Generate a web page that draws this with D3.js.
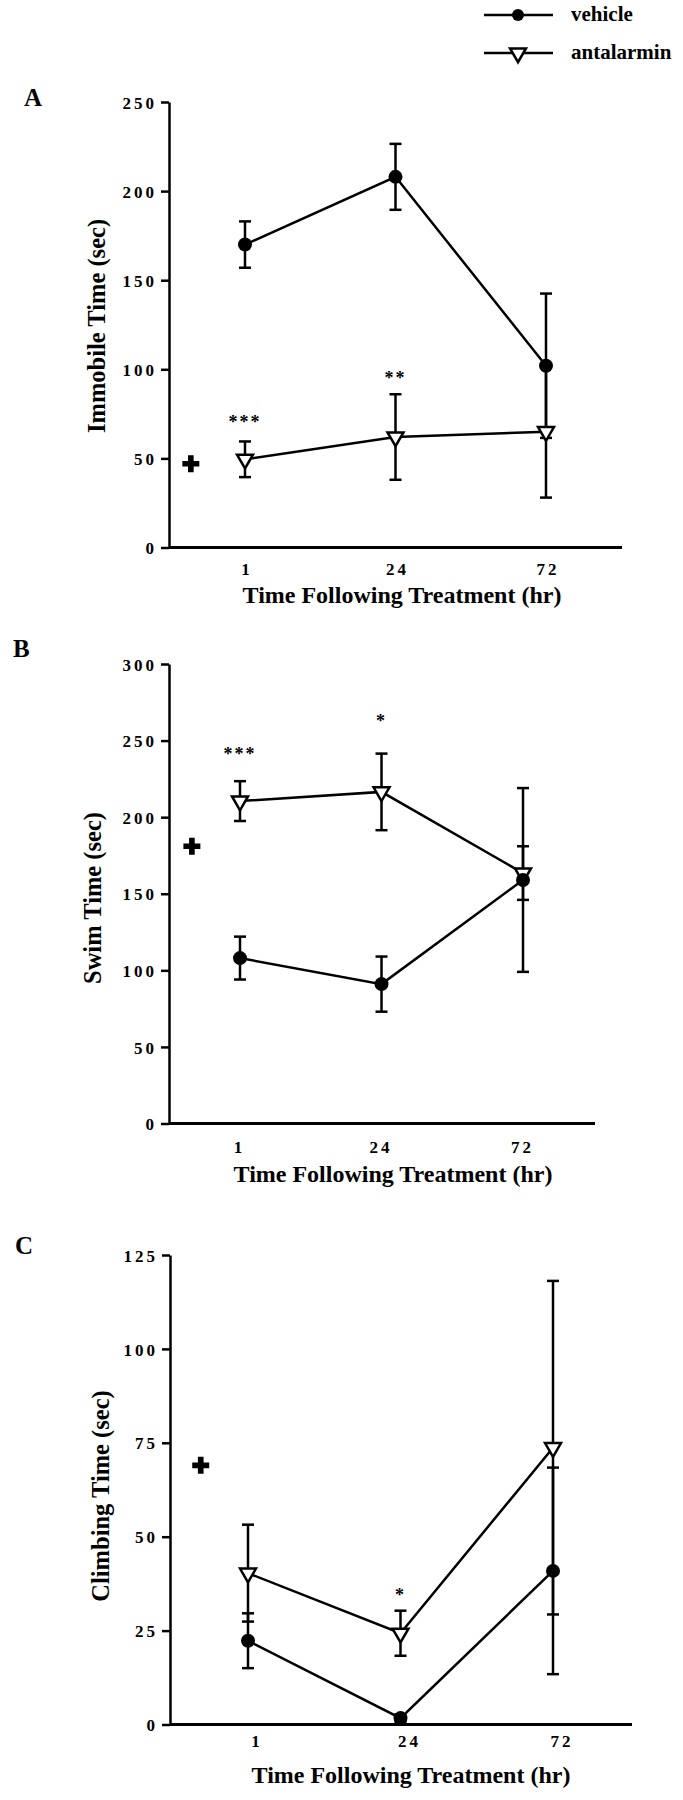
<!DOCTYPE html>
<html><head><meta charset="utf-8">
<script src="https://cdn.jsdelivr.net/npm/d3@7"></script>
<style>
body{margin:0;background:#fff;}
svg{display:block;background:#fff;}
text{font-family:"Liberation Serif","Times New Roman",serif;font-weight:bold;fill:#000;}
</style></head><body>
<svg id="chart" width="683" height="1800"></svg>
<script>
// ---------- data ----------
const hours = ["1", "24", "72"];
const seriesNames = ["vehicle", "antalarmin"];
const xTitle = "Time Following Treatment (hr)";

// Panel A : Immobile time
const immobileVehicle = [170, 208, 102];
const immobileVehicleErr = [13, 18.5, 40.5];
const immobileAntalarmin = [49.5, 62, 65];
const immobileAntalarminErr = [10, 24, 37];
const immobileControl = 47;
const immobileSig = ["***", "**", ""];
const immobileSigLevel = [71.5, 96, 0];
const immobileTicks = [0, 50, 100, 150, 200, 250];

// Panel B : Swim time
const swimVehicle = [108, 91, 159];
const swimVehicleErr = [14, 18, 60];
const swimAntalarmin = [210.5, 216.5, 163.5];
const swimAntalarminErr = [13, 25, 17.5];
const swimControl = 181;
const swimSig = ["***", "*", ""];
const swimSigLevel = [242.5, 263.5, 0];
const swimTicks = [0, 50, 100, 150, 200, 250, 300];

// Panel C : Climbing time
const climbVehicle = [22.3, 1.7, 40.9];
const climbVehicleErr = [7.3, 1, 27.5];
const climbAntalarmin = [40.3, 24.3, 73.7];
const climbAntalarminErr = [12.9, 6, 44.4];
const climbControl = 69;
const climbSig = ["", "*", ""];
const climbSigLevel = [0, 35, 0];
const climbTicks = [0, 25, 50, 75, 100, 125];

// ---------- layout ----------
const panels = [
  {letter: "A", yTitle: "Immobile Time (sec)", ticks: immobileTicks,
   veh: immobileVehicle, vehErr: immobileVehicleErr, ant: immobileAntalarmin, antErr: immobileAntalarminErr,
   ctrl: immobileControl, sig: immobileSig, sigLevel: immobileSigLevel,
   L: {axisX: 169, xEnd: 622, y0: 547.5, yTop: 102, pts: [245, 546], tickBase: 575, tickDx: 2,
       xTitleX: 402, xTitleY: 603, yTitleX: 98, yTitleY: 326, letterX: 24, letterY: 106, ctrlFrac: 0.36}},
  {letter: "B", yTitle: "Swim Time (sec)", ticks: swimTicks,
   veh: swimVehicle, vehErr: swimVehicleErr, ant: swimAntalarmin, antErr: swimAntalarminErr,
   ctrl: swimControl, sig: swimSig, sigLevel: swimSigLevel,
   L: {axisX: 169, xEnd: 595, y0: 1123.5, yTop: 664, pts: [240, 523], tickBase: 1153, tickDx: -0.5,
       xTitleX: 393, xTitleY: 1182, yTitleX: 94, yTitleY: 898, letterX: 13, letterY: 657, ctrlFrac: 0.34}},
  {letter: "C", yTitle: "Climbing Time (sec)", ticks: climbTicks,
   veh: climbVehicle, vehErr: climbVehicleErr, ant: climbAntalarmin, antErr: climbAntalarminErr,
   ctrl: climbControl, sig: climbSig, sigLevel: climbSigLevel,
   L: {axisX: 170, xEnd: 632, y0: 1724.5, yTop: 1255, pts: [248, 553], tickBase: 1747, tickDx: 9,
       xTitleX: 411, xTitleY: 1783, yTitleX: 102, yTitleY: 1496, letterX: 15, letterY: 1254, ctrlFrac: 0.31}}
];

const SW = 2.5;
const svg = d3.select("#chart");
const triSym = d3.symbol(d3.symbolTriangle, 110);
const crossSym = d3.symbol(d3.symbolCross, 160);

panels.forEach(p => {
  const L = p.L;
  const x = d3.scalePoint().domain(hours).range(L.pts);
  const y = d3.scaleLinear().domain([0, d3.max(p.ticks)]).range([L.y0, L.yTop]);
  const g = svg.append("g");

  // y axis
  const ga = g.append("g").attr("transform", `translate(${L.axisX},0)`)
    .call(d3.axisLeft(y).tickValues(p.ticks).tickSize(8).tickSizeOuter(0).tickPadding(4));
  ga.select(".domain").attr("stroke", "#000").attr("stroke-width", SW);
  ga.selectAll(".tick line").attr("stroke", "#000").attr("stroke-width", SW);
  ga.selectAll(".tick text").attr("font-size", 17).attr("letter-spacing", 3).attr("dy", "0.36em");

  // x axis line
  g.append("line").attr("x1", L.axisX).attr("x2", L.xEnd).attr("y1", y(0)).attr("y2", y(0))
    .attr("stroke", "#000").attr("stroke-width", 3);
  g.selectAll(".xl").data(hours).join("text")
    .attr("x", d => x(d) + L.tickDx).attr("y", L.tickBase)
    .attr("text-anchor", "middle").attr("font-size", 17).attr("letter-spacing", 3).text(d => d);

  // titles
  g.append("text").attr("x", L.xTitleX).attr("y", L.xTitleY).attr("text-anchor", "middle")
    .attr("font-size", 24).text(xTitle);
  g.append("text").attr("transform", `translate(${L.yTitleX},${L.yTitleY}) rotate(-90)`)
    .attr("text-anchor", "middle").attr("dy", "0.3em").attr("font-size", 24.5).text(p.yTitle);
  g.append("text").attr("x", L.letterX).attr("y", L.letterY).attr("font-size", 25).text(p.letter);

  const line = d3.line().x((d, i) => x(hours[i])).y(d => y(d));
  [p.veh, p.ant].forEach(s => {
    g.append("path").attr("d", line(s)).attr("fill", "none").attr("stroke", "#000").attr("stroke-width", SW);
  });

  // error bars
  const drawErr = (vals, errs) => {
    vals.forEach((v, i) => {
      const cx = x(hours[i]);
      const lo = y(v - errs[i]), hi = y(v + errs[i]);
      g.append("line").attr("x1", cx).attr("x2", cx).attr("y1", lo).attr("y2", hi)
        .attr("stroke", "#000").attr("stroke-width", SW);
      [lo, hi].forEach(yy => g.append("line").attr("x1", cx - 6).attr("x2", cx + 6)
        .attr("y1", yy).attr("y2", yy).attr("stroke", "#000").attr("stroke-width", SW));
    });
  };
  drawErr(p.veh, p.vehErr);
  drawErr(p.ant, p.antErr);

  // markers
  g.selectAll(".tri").data(p.ant).join("path")
    .attr("d", triSym)
    .attr("transform", (d, i) => `translate(${x(hours[i])},${y(d)}) rotate(180)`)
    .attr("fill", "#fff").attr("stroke", "#000").attr("stroke-width", SW);
  g.selectAll(".dot").data(p.veh).join("circle")
    .attr("cx", (d, i) => x(hours[i])).attr("cy", d => y(d)).attr("r", 7).attr("fill", "#000");

  // control cross
  g.append("path").attr("d", crossSym)
    .attr("transform", `translate(${x(hours[0]) - L.ctrlFrac * x.step()},${y(p.ctrl)})`)
    .attr("fill", "#000");

  // significance stars
  p.sig.forEach((s, i) => {
    if (!s) return;
    g.append("text").attr("x", x(hours[i])).attr("y", y(p.sigLevel[i])).attr("dy", "0.42em")
      .attr("text-anchor", "middle").attr("font-size", 18).attr("letter-spacing", 2).text(s);
  });
});

// ---------- legend ----------
const leg = svg.append("g");
const legY = [15, 53];
seriesNames.forEach((name, i) => {
  const gy = legY[i];
  leg.append("line").attr("x1", 484).attr("x2", 553).attr("y1", gy).attr("y2", gy)
    .attr("stroke", "#000").attr("stroke-width", SW);
  if (i === 0) {
    leg.append("circle").attr("cx", 518).attr("cy", gy).attr("r", 6).attr("fill", "#000");
  } else {
    leg.append("path").attr("d", triSym).attr("transform", `translate(518,${gy}) rotate(180)`)
      .attr("fill", "#fff").attr("stroke", "#000").attr("stroke-width", SW);
  }
  leg.append("text").attr("x", 571).attr("y", gy + 6).attr("font-size", 21).text(name);
});
</script>
</body></html>
